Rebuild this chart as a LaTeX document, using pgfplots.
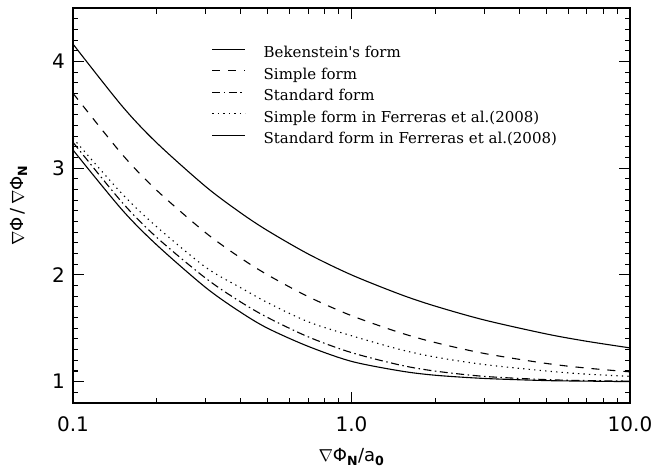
\documentclass[border=0pt]{standalone}
\usepackage{fontspec}
\setmainfont{DejaVu Sans}
\newfontfamily\legfont{DejaVu Serif}
\usepackage{pgfplots}
\pgfplotsset{compat=1.18}

\begin{document}
\begin{tikzpicture}
\path (0,0) rectangle (653pt,472pt);
\begin{axis}[
  at={(73pt,69pt)}, anchor=south west,
  scale only axis, width=557pt, height=395pt,
  xmode=log, xmin=0.1, xmax=10,
  ymin=0.8, ymax=4.5, clip=false,
  xtick={0.1,1,10}, xticklabels={0.1,1.0,10.0},
  ytick={1,2,3,4}, minor y tick num=9,
  tick align=inside, tickwidth=11pt, subtickwidth=5.5pt,
  tick style={draw=black, line width=1pt},
  axis line style={line width=1.1pt},
  tick label style={font=\fontsize{20}{22}\selectfont},
  /pgf/number format/assume math mode=true,
  xticklabel style={inner sep=0pt, anchor=north, yshift=-13pt},
  yticklabel style={inner sep=0pt, anchor=east, xshift=-8pt},
  xlabel={$\nabla$Φ\textsubscript{\bfseries N}/a\textsubscript{\bfseries 0}},
  ylabel={$\nabla$Φ\,/\,$\nabla$Φ\textsubscript{\bfseries N}},
  label style={font=\fontsize{18}{20}\selectfont},
  xlabel style={at={(axis description cs:0.5,-0.149)}, anchor=base},
  ylabel style={at={(axis description cs:-0.088,0.5)}, anchor=base},
  legend style={at={(0.249,0.905)}, anchor=north west, draw=none, fill=none,
    inner sep=0pt, row sep=5.5pt,
    font=\legfont\fontsize{15}{17}\selectfont,
    nodes={inner sep=0pt, text height=12pt, text depth=4pt}},
  legend cell align=left,
  /tikz/every odd column/.append style={column sep=17.7pt},
  legend image code/.code={\draw[#1] (0pt,4.5pt) -- (33pt,4.5pt);},
]
% ticks on all four sides
\pgfplotsinvokeforeach{1,2,3,4}{
  \draw[line width=1pt] (axis cs:0.1,#1) -- ++(11pt,0pt);
  \draw[line width=1pt] (axis cs:10,#1) -- ++(-11pt,0pt);}
\pgfplotsinvokeforeach{0.9,1.1,1.2,1.3,1.4,1.5,1.6,1.7,1.8,1.9,2.1,2.2,2.3,2.4,2.5,2.6,2.7,2.8,2.9,3.1,3.2,3.3,3.4,3.5,3.6,3.7,3.8,3.9,4.1,4.2,4.3,4.4}{
  \draw[line width=0.9pt] (axis cs:0.1,#1) -- ++(5.5pt,0pt);
  \draw[line width=0.9pt] (axis cs:10,#1) -- ++(-5.5pt,0pt);}
\pgfplotsinvokeforeach{1}{
  \draw[line width=1pt] (axis cs:#1,0.8) -- ++(0pt,11pt);
  \draw[line width=1pt] (axis cs:#1,4.5) -- ++(0pt,-11pt);}
\pgfplotsinvokeforeach{0.2,0.3,0.4,0.5,0.6,0.7,0.8,0.9,2,3,4,5,6,7,8,9}{
  \draw[line width=0.9pt] (axis cs:#1,0.8) -- ++(0pt,5.5pt);
  \draw[line width=0.9pt] (axis cs:#1,4.5) -- ++(0pt,-5.5pt);}
% Bekenstein's form
\addplot[black, solid, line width=1.1pt, smooth, mark=none] coordinates {(0.1,4.1623) (0.15,3.5820) (0.2,3.2361) (0.3,2.8257) (0.4,2.5811) (0.5,2.4142) (0.7,2.1952) (1,2.0) (1.5,1.8165) (2,1.7071) (3,1.5774) (5,1.4472) (7,1.3780) (10,1.3162)};
\addlegendentry{Bekenstein's form}
% Simple form
\addplot[black, line width=1.1pt, smooth, mark=none, dash pattern=on 8pt off 8pt] coordinates {(0.1,3.7016) (0.15,3.130) (0.2,2.7913) (0.3,2.3930) (0.4,2.1583) (0.5,2.0) (0.7,1.7956) (1,1.6180) (1.5,1.4574) (2,1.3660) (3,1.2638) (5,1.1708) (7,1.1268) (10,1.0916)};
\addlegendentry{Simple form}
% Standard form
\addplot[black, line width=1.1pt, smooth, mark=none, dash pattern=on 8pt off 3.5pt on 1.5pt off 3.5pt] coordinates {(0.1,3.242) (0.15,2.680) (0.2,2.3505) (0.3,1.9674) (0.4,1.7463) (0.5,1.6005) (0.7,1.4190) (1,1.2720) (1.5,1.1547) (2,1.0987) (3,1.0492) (5,1.0191) (7,1.0100) (10,1.0049)};
\addlegendentry{Standard form}
% Simple form in Ferreras et al.(2008)
\addplot[black, line width=1.1pt, smooth, mark=none, dash pattern=on 1.3pt off 4.2pt] coordinates {(0.1,3.28) (0.15,2.76) (0.2,2.45) (0.3,2.07) (0.4,1.88) (0.5,1.74) (0.7,1.56) (1,1.43) (1.5,1.30) (2,1.23) (3,1.16) (5,1.10) (7,1.07) (10,1.05)};
\addlegendentry{Simple form in Ferreras et al.(2008)}
% Standard form in Ferreras et al.(2008)
\addplot[black, solid, line width=1.1pt, smooth, mark=none] coordinates {(0.1,3.17) (0.15,2.61) (0.2,2.28) (0.3,1.88) (0.4,1.65) (0.5,1.50) (0.7,1.33) (1,1.19) (1.5,1.10) (2,1.06) (3,1.03) (5,1.01) (7,1.005) (10,1.0)};
\addlegendentry{Standard form in Ferreras et al.(2008)}
\end{axis}
\end{tikzpicture}
\end{document}
